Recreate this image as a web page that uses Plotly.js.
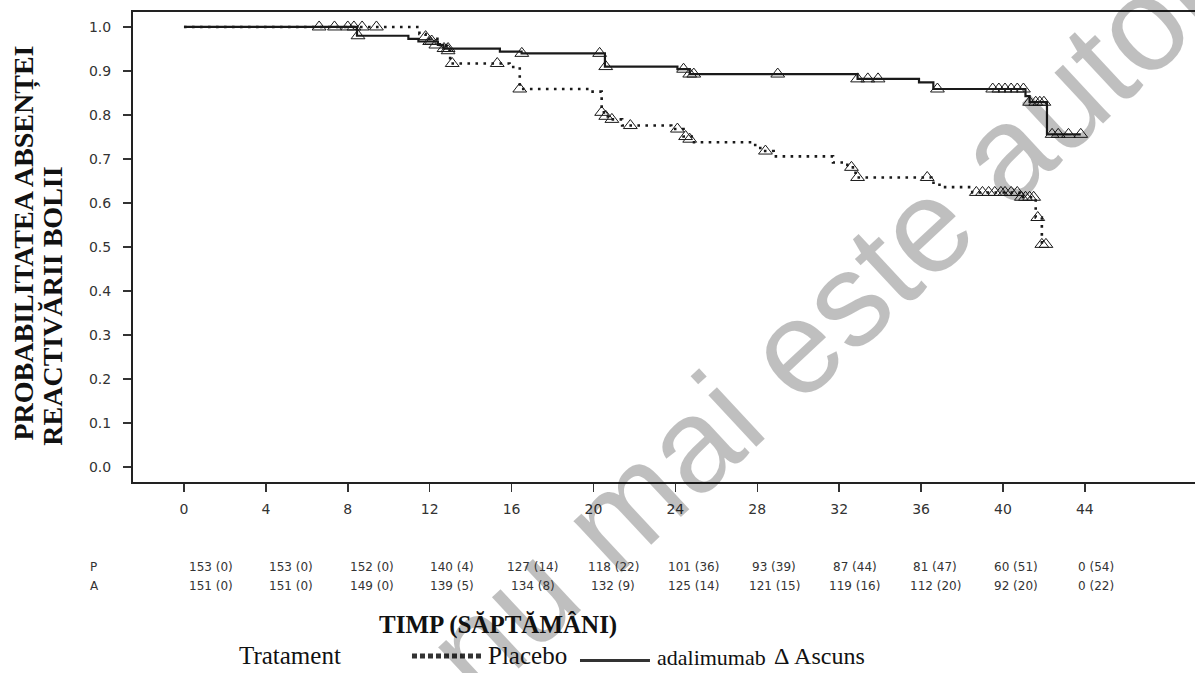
<!DOCTYPE html>
<html><head><meta charset="utf-8">
<script src="https://cdn.plot.ly/plotly-3.0.1.min.js"></script>
<style>html,body{margin:0;padding:0;background:#fff}#chart{width:1195px;height:673px}</style>
</head><body><div id="chart"></div>
<script>
// ---- data ----
const weeks = [0, 4, 8, 12, 16, 20, 24, 28, 32, 36, 40, 44];
const yTicks = [0.0, 0.1, 0.2, 0.3, 0.4, 0.5, 0.6, 0.7, 0.8, 0.9, 1.0];
const yTickText = ['0.0','0.1','0.2','0.3','0.4','0.5','0.6','0.7','0.8','0.9','1.0'];

const riskP = ['153 (0)','153 (0)','152 (0)','140 (4)','127 (14)','118 (22)','101 (36)','93 (39)','87 (44)','81 (47)','60 (51)','0 (54)'];
const riskA = ['151 (0)','151 (0)','149 (0)','139 (5)','134 (8)','132 (9)','125 (14)','121 (15)','119 (16)','112 (20)','92 (20)','0 (22)'];

// adalimumab (solid) Kaplan-Meier steps
const adaTimes = [0, 8.45, 10.96, 11.45, 12.4, 12.67, 15.43, 16.49, 20.56, 24.1, 24.7, 32.9, 35.9, 36.6, 41.1, 41.3, 42.15, 43.8];
const adaSurv  = [1.0, 0.980, 0.973, 0.967, 0.959, 0.951, 0.944, 0.940, 0.910, 0.904, 0.893, 0.882, 0.874, 0.859, 0.843, 0.829, 0.756, 0.756];
// adalimumab censored
const adaCensT = [8.5, 12.0, 12.3, 12.7, 12.9, 16.5, 20.3, 20.6, 24.4, 24.7, 24.9, 29.0, 32.9, 33.4, 33.9, 36.8, 39.5, 39.8, 40.1, 40.4, 40.7, 41.0, 41.3, 41.6, 41.8, 42.0, 42.4, 42.7, 43.2, 43.8];
const adaCensS = [0.980, 0.967, 0.959, 0.951, 0.951, 0.940, 0.940, 0.910, 0.904, 0.893, 0.893, 0.893, 0.882, 0.882, 0.882, 0.859, 0.859, 0.859, 0.859, 0.859, 0.859, 0.859, 0.829, 0.829, 0.829, 0.829, 0.756, 0.756, 0.756, 0.756];

// placebo (dotted) Kaplan-Meier steps
const plaTimes = [0, 11.5, 11.8, 12.5, 12.8, 13.0, 15.9, 16.4, 19.8, 20.4, 20.7, 21.4, 23.8, 24.4, 24.8, 27.9, 28.3, 28.8, 31.7, 32.4, 32.8, 36.5, 36.9, 38.5, 40.8, 41.6, 41.9, 42.1];
const plaSurv  = [1.0, 0.984, 0.973, 0.959, 0.946, 0.917, 0.909, 0.859, 0.853, 0.806, 0.790, 0.776, 0.768, 0.751, 0.738, 0.725, 0.718, 0.706, 0.692, 0.681, 0.658, 0.646, 0.636, 0.624, 0.613, 0.567, 0.506, 0.506];
// placebo censored
const plaCensT = [6.6, 7.35, 8.0, 8.3, 8.7, 9.4, 11.8, 12.1, 12.9, 13.1, 15.3, 16.4, 20.4, 20.6, 20.9, 21.8, 24.1, 24.5, 24.7, 28.4, 32.6, 32.9, 36.3, 38.7, 39.0, 39.3, 39.6, 39.9, 40.1, 40.4, 40.7, 40.9, 41.1, 41.3, 41.5, 41.7, 41.9, 42.1];
const plaCensS = [1, 1, 1, 1, 1, 1, 0.978, 0.968, 0.946, 0.917, 0.917, 0.859, 0.806, 0.797, 0.790, 0.776, 0.768, 0.751, 0.745, 0.718, 0.681, 0.658, 0.658, 0.624, 0.624, 0.624, 0.624, 0.624, 0.624, 0.624, 0.624, 0.613, 0.613, 0.613, 0.613, 0.567, 0.506, 0.506];

const legendTitle = 'Tratament';
const seriesNames = ['Placebo', 'adalimumab', 'Δ Ascuns'];
const xTitle = 'TIMP (SĂPTĂMÂNI)';
const yTitle1 = 'PROBABILITATEA ABSENȚEI';
const yTitle2 = 'REACTIVĂRII BOLII';
const watermark = 'nu mai este autorizat';

// ---- chart ----
const ink = '#1a1a1a';
const censMarker = {symbol:'triangle-up-open', size:12, color:ink, line:{width:1, color:ink}};

const traces = [
  {x: plaTimes, y: plaSurv, mode:'lines', line:{shape:'hv', color:ink, width:2.6, dash:'2.6px,5.4px'}, hoverinfo:'skip'},
  {x: adaTimes, y: adaSurv, mode:'lines', line:{shape:'hv', color:ink, width:2.2}, hoverinfo:'skip'},
  {x: plaCensT, y: plaCensS, mode:'markers', marker:censMarker, hoverinfo:'skip'},
  {x: adaCensT, y: adaCensS, mode:'markers', marker:censMarker, hoverinfo:'skip'}
];

const serif = 'Liberation Serif, Times New Roman, serif';
const sans = 'DejaVu Sans, Verdana, sans-serif';
const annotations = [];

// watermark first (translucent so dark marks stay visible through it; runs off the page as in the reference)
annotations.push({xref:'paper', yref:'paper', x:0.722, y:0.494, xanchor:'center', yanchor:'middle', textangle:-43,
  text:watermark, showarrow:false, font:{family:'Liberation Sans, Arial, sans-serif', size:133, color:'rgba(0,0,0,0.25)'}});

// risk table
const riskRowY = [-0.181, -0.221];
[riskP, riskA].forEach((row, r) => {
  annotations.push({xref:'paper', yref:'paper', x:-0.042, y:riskRowY[r], xanchor:'left', yanchor:'middle',
    text: r === 0 ? 'P' : 'A', showarrow:false, font:{family:sans, size:12, color:'#333'}});
  row.forEach((t, i) => {
    annotations.push({xref:'x', yref:'paper', x: 1.32 + weeks[i]*0.9825, y:riskRowY[r], xanchor:'center', yanchor:'middle',
      text:t, showarrow:false, font:{family:sans, size:12, color:'#333'}});
  });
});

// y title (two rotated lines, aligned at their start)
annotations.push({xref:'paper', yref:'paper', x:-0.1026, y:0.083, xanchor:'center', yanchor:'bottom', textangle:-90,
  text:yTitle1, showarrow:false, font:{family:serif, size:28, weight:700, color:'#111'}});
annotations.push({xref:'paper', yref:'paper', x:-0.0753, y:0.072, xanchor:'center', yanchor:'bottom', textangle:-90,
  text:yTitle2, showarrow:false, font:{family:serif, size:28, weight:700, color:'#111'}});

// x title
annotations.push({xref:'paper', yref:'paper', x:0.3437, y:-0.304, xanchor:'center', yanchor:'middle',
  text:xTitle, showarrow:false, font:{family:serif, size:25, weight:700, color:'#111'}});

// legend row
const legY = -0.370;
annotations.push({xref:'paper', yref:'paper', x:0.148, y:legY, xanchor:'center', yanchor:'middle',
  text:legendTitle, showarrow:false, font:{family:serif, size:25, color:'#111'}});
annotations.push({xref:'paper', yref:'paper', x:0.3324, y:legY, xanchor:'left', yanchor:'middle',
  text:seriesNames[0], showarrow:false, font:{family:serif, size:25, color:'#111'}});
annotations.push({xref:'paper', yref:'paper', x:0.4915, y:legY - 0.004, xanchor:'left', yanchor:'middle',
  text:seriesNames[1], showarrow:false, font:{family:serif, size:22, color:'#111'}});
annotations.push({xref:'paper', yref:'paper', x:0.6017, y:legY, xanchor:'left', yanchor:'middle',
  text:seriesNames[2], showarrow:false, font:{family:serif, size:24, color:'#111'}});

const shapes = [
  {type:'line', xref:'paper', yref:'paper', x0:0.2627, x1:0.3296, y0:legY, y1:legY,
   line:{color:'#333', width:5, dash:'5px,3px'}},
  {type:'line', xref:'paper', yref:'paper', x0:0.4209, x1:0.4868, y0:legY - 0.010, y1:legY - 0.010,
   line:{color:'#333', width:3}}
];

const layout = {
  width:1195, height:673,
  margin:{l:133, r:0, t:12, b:191, pad:0},
  paper_bgcolor:'#fff', plot_bgcolor:'#fff',
  showlegend:false,
  font:{family:sans, color:'#333'},
  xaxis:{range:[-2.49, 49.38], tickvals:weeks, ticktext:weeks.map(String), ticks:'outside', ticklen:8, tickwidth:1.5,
    tickcolor:'#333', showline:true, linecolor:'#222', linewidth:2, mirror:true, showgrid:false, zeroline:false,
    tickfont:{family:sans, size:14, color:'#333'}, ticklabelstandoff:5},
  yaxis:{range:[-0.034, 1.034], tickvals:yTicks, ticktext:yTickText, ticks:'outside', ticklen:8, tickwidth:1.5,
    tickcolor:'#333', showline:true, linecolor:'#222', linewidth:2, mirror:false, showgrid:false, zeroline:false,
    tickfont:{family:sans, size:14, color:'#333'}, ticklabelstandoff:9},
  annotations:annotations,
  shapes:shapes
};

Plotly.newPlot('chart', traces, layout, {displayModeBar:false, staticPlot:true});
</script></body></html>
